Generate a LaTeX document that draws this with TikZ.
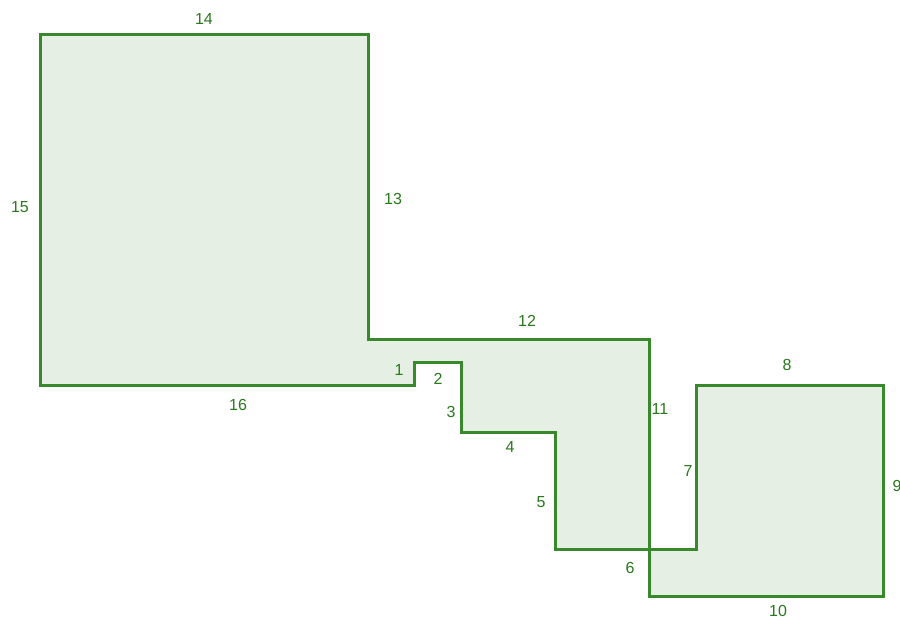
\documentclass[tikz,border=0pt]{standalone}
\usepackage{fontspec}
\setmainfont{Liberation Sans}
\definecolor{edge}{RGB}{56,136,44}
\definecolor{fillc}{RGB}{229,239,227}
\definecolor{lab}{RGB}{40,120,28}
\begin{document}
\begin{tikzpicture}[x=1pt,y=-1pt,
  lbl/.style={text=lab,font=\fontsize{16}{16}\selectfont,inner sep=0pt}]
\useasboundingbox (0,0) rectangle (900,621);
\coordinate (p1) at (40,385);
\coordinate (p2) at (414,385);
\coordinate (p3) at (414,362);
\coordinate (p4) at (461,362);
\coordinate (p5) at (461,432);
\coordinate (p6) at (555,432);
\coordinate (p7) at (555,549);
\coordinate (p8) at (696,549);
\coordinate (p9) at (696,385);
\coordinate (p10) at (883,385);
\coordinate (p11) at (883,596);
\coordinate (p12) at (649,596);
\coordinate (p13) at (649,339);
\coordinate (p14) at (368,339);
\coordinate (p15) at (368,34);
\coordinate (p16) at (40,34);
\path[fill=fillc,even odd rule] (p1)--(p2)--(p3)--(p4)--(p5)--(p6)--(p7)--(p8)--(p9)--(p10)--(p11)--(p12)--(p13)--(p14)--(p15)--(p16)--cycle;
\draw[edge,line width=3pt,line join=miter] (p1)--(p2)--(p3)--(p4)--(p5)--(p6)--(p7)--(p8)--(p9)--(p10)--(p11)--(p12)--(p13)--(p14)--(p15)--(p16)--cycle;
\node[lbl] (l1) at (399,370) {1};
\node[lbl] (l2) at (438,379) {2};
\node[lbl] (l3) at (451,412) {3};
\node[lbl] (l4) at (510,447) {4};
\node[lbl] (l5) at (541,502) {5};
\node[lbl] (l6) at (630,568) {6};
\node[lbl] (l7) at (688,471) {7};
\node[lbl] (l8) at (787,365) {8};
\node[lbl] (l9) at (897,486) {9};
\node[lbl] (l10) at (778,611) {10};
\node[lbl] (l11) at (660,409) {11};
\node[lbl] (l12) at (527,321) {12};
\node[lbl] (l13) at (393,199) {13};
\node[lbl] (l14) at (204,19) {14};
\node[lbl] (l15) at (20,207) {15};
\node[lbl] (l16) at (238,405) {16};
\end{tikzpicture}
\end{document}
